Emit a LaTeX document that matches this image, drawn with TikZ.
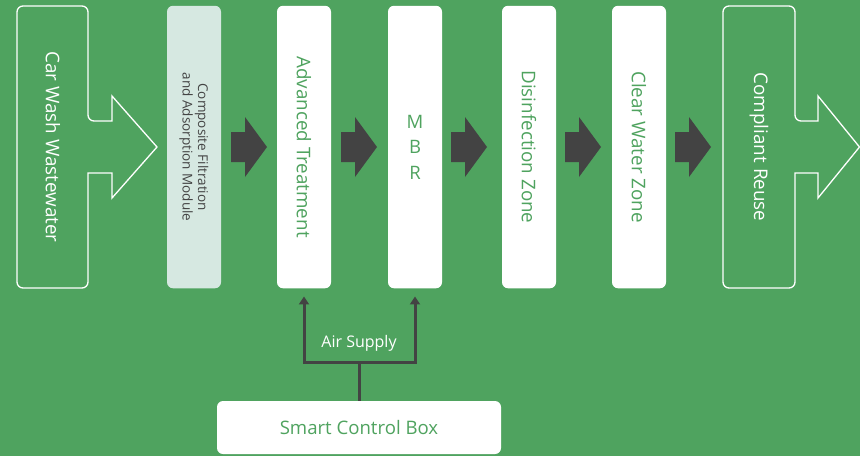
\documentclass[tikz,border=0pt]{standalone}
\usepackage{fontspec}
\setmainfont{Open Sans}
\usetikzlibrary{arrows.meta}
\definecolor{bggreen}{HTML}{4FA35F}
\definecolor{txtgreen}{HTML}{4FA35F}
\definecolor{paleblue}{HTML}{D6E8E1}
\definecolor{darkgray}{HTML}{434343}
\tikzset{
  box/.style={draw=none, fill=white, rounded corners=6pt, minimum width=54pt, minimum height=282.5pt, inner sep=0pt},
  outline/.style={draw=white, line width=1.3pt, rounded corners=6pt},
  vtxt/.style={rotate=-90, text=txtgreen, font=\fontsize{18.8}{22}\selectfont, inner sep=0pt},
  wtxt/.style={rotate=-90, text=white, font=\fontsize{18.8}{22}\selectfont, inner sep=0pt},
  flowarrow/.style={fill=darkgray, draw=none},
  airline/.style={draw=darkgray, line width=3pt},
}
\begin{document}
\begin{tikzpicture}[x=1pt,y=-1pt]
\useasboundingbox (0,0) rectangle (860,456);
\fill[bggreen] (0,0) rectangle (860,456);
% input outline arrow
\draw[outline] (17,6) -- (88,6) -- (88,121) [sharp corners] -- (112,121) -- (112,96) -- (157,147) -- (112,198) -- (112,173) -- (88,173) [rounded corners=6pt] -- (88,288) -- (17,288) -- cycle;
\node[wtxt] (carwash) at (53,147) {Car Wash Wastewater};
% composite module
\node[box, fill=paleblue] (comp) at (194,147) {};
\node[rotate=-90, text=darkgray, align=center, inner sep=0pt, font=\fontsize{13.5}{15.5}\selectfont] (comptxt) at (comp.center) {Composite Filtration\\and Adsorption Module};
% white boxes
\node[box] (adv) at (304,147) {};
\node[vtxt] (advtxt) at (adv.center) {Advanced Treatment};
\node[box] (mbr) at (415,147) {};
\node[text=txtgreen, align=center, inner sep=0pt, font=\fontsize{18.5}{25.5}\selectfont] (mbrtxt) at (mbr.center) {M\\B\\R};
\node[box] (dis) at (529,147) {};
\node[vtxt] (distxt) at (dis.center) {Disinfection Zone};
\node[box] (clw) at (639,147) {};
\node[vtxt] (clwtxt) at (clw.center) {Clear Water Zone};
% output outline arrow
\draw[outline] (723,6) -- (795,6) -- (795,121) [sharp corners] -- (818,121) -- (818,96) -- (859.5,147) -- (818,198) -- (818,173) -- (795,173) [rounded corners=6pt] -- (795,288) -- (723,288) -- cycle;
\node[wtxt] (reuse) at (759,147) {Compliant Reuse};
% dark flow arrows
\foreach \x in {231,341,451,565,675}{
  \fill[flowarrow] (\x,132) -- ++(14,0) -- ++(0,-15) -- ++(22,30) -- ++(-22,30) -- ++(0,-15) -- ++(-14,0) -- cycle;
}
% control box
\node[box, minimum width=284pt, minimum height=53pt] (ctrl) at (359,427.5) {};
\node[text=txtgreen, inner sep=0pt, font=\fontsize{18.6}{22}\selectfont] (ctrltxt) at (ctrl.center) {Smart Control Box};
\coordinate (split) at (359,362);
\draw[airline] (ctrl.north) -- (split);
\draw[airline, -{Triangle[length=8pt,width=10pt]}, shorten >=8pt] (split) -| (adv.south);
\draw[airline, -{Triangle[length=8pt,width=10pt]}, shorten >=8pt] (split) -| (mbr.south);
\node[text=white, inner sep=0pt, font=\fontsize{16}{19}\selectfont] (air) at (359,343) {Air Supply};
\end{tikzpicture}
\end{document}
